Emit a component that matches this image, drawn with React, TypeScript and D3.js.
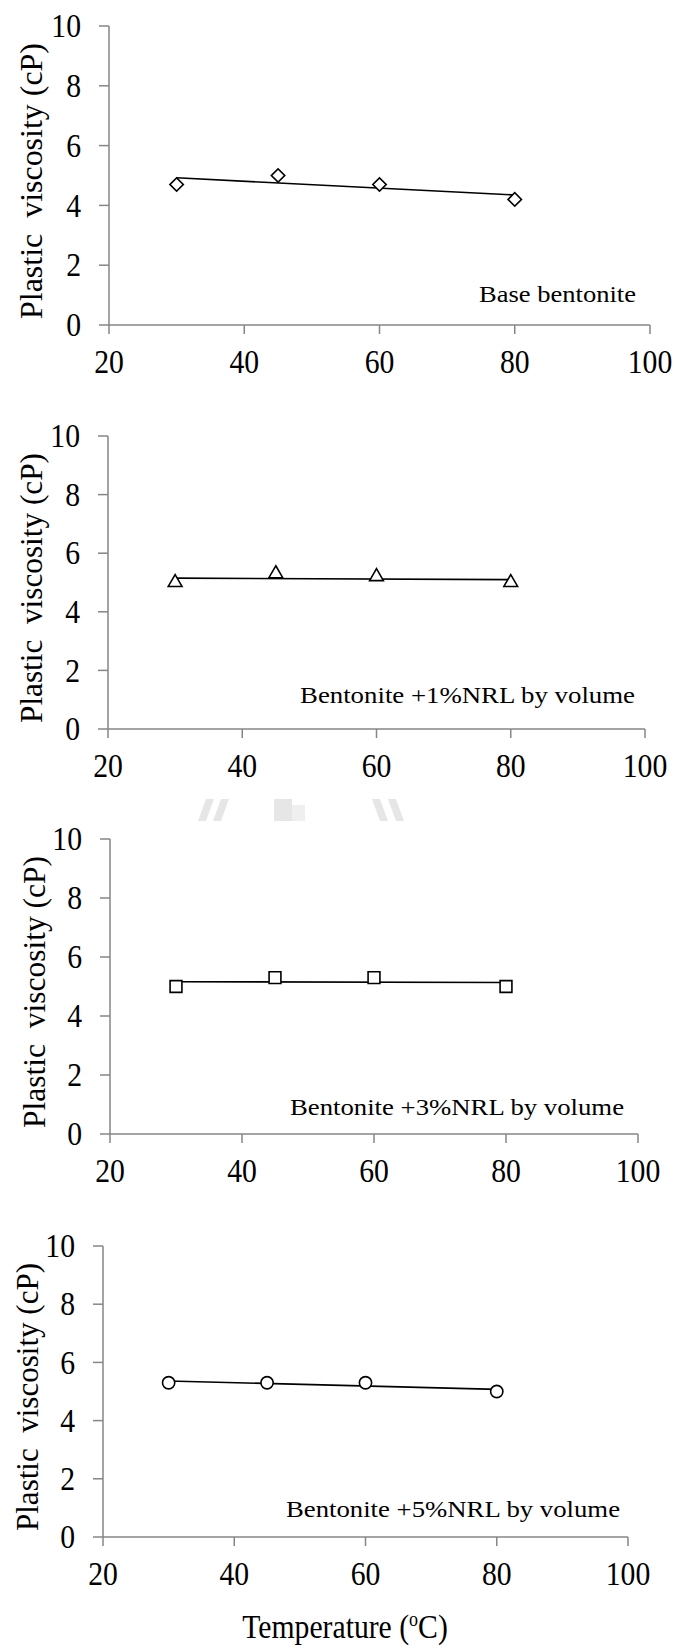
import React from "react";
import * as d3 from "d3";

// ---- data ----
const temperatures = [30, 45, 60, 80];
const pvBase = [4.7, 5.0, 4.7, 4.2];
const pvNRL1 = [5.0, 5.3, 5.2, 5.0];
const pvNRL3 = [5.0, 5.3, 5.3, 5.0];
const pvNRL5 = [5.3, 5.3, 5.3, 5.0];
const seriesLabels = [
  "Base bentonite",
  "Bentonite +1%NRL by volume",
  "Bentonite +3%NRL by volume",
  "Bentonite +5%NRL by volume",
];
const markerKinds = ["diamond", "triangle", "square", "circle"];
const xTicks = [20, 40, 60, 80, 100];
const yTicks = [0, 2, 4, 6, 8, 10];
const yLabel = "Plastic  viscosity (cP)";

// ---- layout ----
const panels = [
  { x0: 109, x1: 650, yTop: 26, yBot: 325, annX: 636, annY: 302, annW: 157, labX: 42 },
  { x0: 108, x1: 645, yTop: 436, yBot: 729, annX: 635, annY: 703, annW: 335, labX: 42 },
  { x0: 110, x1: 638, yTop: 839, yBot: 1134, annX: 624, annY: 1115, annW: 334, labX: 45 },
  { x0: 103, x1: 628, yTop: 1246, yBot: 1537, annX: 620, annY: 1517, annW: 334, labX: 38 },
];
const seriesData = [pvBase, pvNRL1, pvNRL3, pvNRL5];

const FONT = "'Liberation Serif', 'Times New Roman', serif";
const AXIS = "#868686";
const SX = 0.9;

function Txt({ x, y, anchor, size, children, dy }: any) {
  return (
    <text
      transform={`translate(${x},${y}) scale(${SX},1)`}
      textAnchor={anchor}
      fontFamily={FONT}
      fontSize={size}
      dy={dy}
      fill="#000"
    >
      {children}
    </text>
  );
}

function markerPath(kind: string) {
  if (kind === "diamond") return d3.symbol(d3.symbolSquare, 90)();
  if (kind === "triangle") return d3.symbol(d3.symbolTriangle, 82)();
  if (kind === "square") return d3.symbol(d3.symbolSquare, 140)();
  return d3.symbol(d3.symbolCircle, 118)();
}

function Panel({ idx }: { idx: number }) {
  const p = panels[idx];
  const vals = seriesData[idx];
  const x = d3.scaleLinear().domain([20, 100]).range([p.x0, p.x1]);
  const y = d3.scaleLinear().domain([0, 10]).range([p.yBot, p.yTop]);
  // least-squares trend line
  const mx = d3.mean(temperatures) as number;
  const my = d3.mean(vals) as number;
  const sxy = d3.sum(temperatures.map((t, i) => (t - mx) * (vals[i] - my)));
  const sxx = d3.sum(temperatures.map((t) => (t - mx) * (t - mx)));
  const slope = sxy / sxx;
  const fit = (t: number) => my + slope * (t - mx);
  const tMin = d3.min(temperatures) as number;
  const tMax = d3.max(temperatures) as number;
  const line = d3.line<number>().x((t) => x(t)).y((t) => y(fit(t)));
  const kind = markerKinds[idx];
  const mp = markerPath(kind);
  const labTop = p.yTop + 17;
  const labBot = p.yBot - 6;
  return (
    <g>
      {/* axes */}
      <line x1={p.x0} x2={p.x0} y1={p.yTop} y2={p.yBot} stroke={AXIS} strokeWidth={1.5} />
      <line x1={p.x0} x2={p.x1} y1={p.yBot} y2={p.yBot} stroke={AXIS} strokeWidth={1.5} />
      {yTicks.map((t) => (
        <g key={"y" + t}>
          <line x1={p.x0 - 10} x2={p.x0} y1={y(t)} y2={y(t)} stroke={AXIS} strokeWidth={1.5} />
          <Txt x={p.x0 - 28} y={y(t)} dy="0.34em" anchor="end" size={33}>
            {t}
          </Txt>
        </g>
      ))}
      {xTicks.map((t) => (
        <g key={"x" + t}>
          <line x1={x(t)} x2={x(t)} y1={p.yBot} y2={p.yBot + 9} stroke={AXIS} strokeWidth={1.5} />
          <Txt x={x(t)} y={p.yBot + 48} anchor="middle" size={33}>
            {t}
          </Txt>
        </g>
      ))}
      {/* y label */}
      <text
        transform={`translate(${p.labX},${labBot}) rotate(-90)`}
        textAnchor="start"
        fontFamily={FONT}
        fontSize={32}
        fill="#000"
        xmlSpace="preserve"
        style={{ whiteSpace: "pre" }}
        textLength={labBot - labTop}
        lengthAdjust="spacingAndGlyphs"
      >
        {yLabel}
      </text>
      {/* trend line */}
      <path d={line([tMin, tMax]) || ""} fill="none" stroke="#000" strokeWidth={1.6} />
      {/* markers */}
      {temperatures.map((t, i) => (
        <path
          key={"m" + i}
          d={mp || ""}
          transform={`translate(${x(t)},${y(vals[i])})${kind === "diamond" ? " rotate(45)" : ""}`}
          fill="#fff"
          stroke="#000"
          strokeWidth={1.6}
        />
      ))}
      {/* annotation */}
      <text
        x={p.annX}
        y={p.annY}
        textAnchor="end"
        fontFamily={FONT}
        fontSize={24}
        fill="#000"
        textLength={p.annW}
        lengthAdjust="spacingAndGlyphs"
      >
        {seriesLabels[idx]}
      </text>
    </g>
  );
}

export default function App() {
  return (
    <svg
      width={678}
      height={1648}
      style={{ position: "absolute", left: 0, top: 0, background: "#fff" }}
    >
      <rect x={0} y={0} width={678} height={1648} fill="#fff" />
      {/* faint watermark fragments */}
      <g fill="#e6e6e6">
        <polygon points="198,821 206,799 214,799 206,821" />
        <polygon points="213,821 221,799 229,799 221,821" />
        <rect x={274} y={799} width={18} height={22} />
        <rect x={292} y={805} width={13} height={16} fill="#efefef" />
        <polygon points="372,799 380,799 388,821 380,821" />
        <polygon points="388,799 396,799 404,821 396,821" />
      </g>
      {panels.map((_, i) => (
        <Panel key={i} idx={i} />
      ))}
      <Txt x={345} y={1638} anchor="middle" size={33}>
        Temperature (
        <tspan fontSize={20} dy={-12}>o</tspan>
        <tspan dy={12}>C)</tspan>
      </Txt>
    </svg>
  );
}
